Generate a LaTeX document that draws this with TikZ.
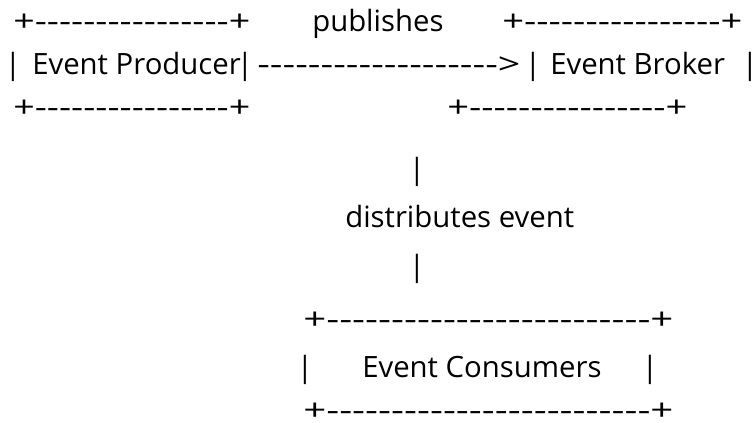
\documentclass[tikz,border=0pt]{standalone}
\usepackage{fontspec}
\newfontfamily\asciifont{Open Sans}
\newdimen\px \px=0.75pt
% a run of ascii characters stretched to a width given in pixels
\newcommand\asciirun[2]{\resizebox{#1\px}{\height}{#2}}
\newcommand\boxedge[1]{+\foreach\k in {1,...,#1}{-}+}
\newcommand\arrowrun[1]{\foreach\k in {1,...,#1}{-}>}

\begin{document}
\begin{tikzpicture}[x=0.75pt,y=-0.75pt]
\tikzset{ascii/.style={anchor=base west, inner sep=0pt, font=\asciifont\fontsize{22}{26}\selectfont},
  bar/.style={ascii, anchor=base}}
\useasboundingbox (0,0) rectangle (753,423);

% producer and broker
\node[ascii] (prodtop) at (13,32) {\asciirun{237}{\boxedge{16}}};
\node[ascii] (publishes) at (312,32) {publishes};
\node[ascii] (brokertop) at (502,32) {\asciirun{240}{\boxedge{16}}};

\node[bar] (prodleft) at (13,75) {|};
\node[ascii] (prodname) at (32,75) {Event Producer};
\node[bar] (prodright) at (245,75) {|};
\node[ascii] (publisharrow) at (257,75) {\asciirun{263}{\arrowrun{19}}};
\node[bar] (brokerleft) at (533,75) {|};
\node[ascii] (brokername) at (550,75) {Event Broker};
\node[bar] (brokerright) at (750,75) {|};

\node[ascii] (prodbot) at (13,118) {\asciirun{237}{\boxedge{16}}};
\node[ascii] (brokerbot) at (447,118) {\asciirun{240}{\boxedge{16}}};

% distribution
\node[bar] (distupper) at (417,180) {|};
\node[ascii] (distributes) at (345,228) {distributes event};
\node[bar] (distlower) at (417,277) {|};

% consumers
\node[ascii] (consumtop) at (303,330) {\asciirun{370}{\boxedge{25}}};
\node[bar] (consumleft) at (305,378) {|};
\node[ascii] (consumname) at (362,378) {Event Consumers};
\node[bar] (consumright) at (650,378) {|};
\node[ascii] (consumbot) at (303,421) {\asciirun{370}{\boxedge{25}}};
\end{tikzpicture}
\end{document}
